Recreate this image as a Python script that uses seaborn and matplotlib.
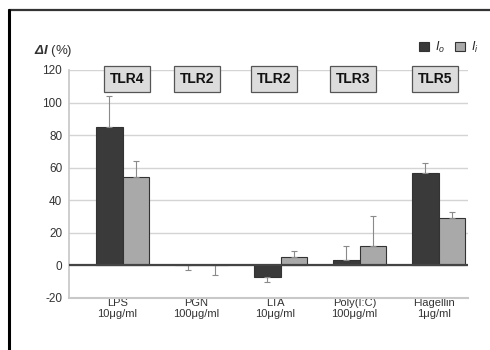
import matplotlib
matplotlib.use("Agg")
import matplotlib.pyplot as plt
import seaborn as sns
import pandas as pd
import numpy as np
from matplotlib.lines import Line2D

categories = ["LPS\n10μg/ml", "PGN\n100μg/ml", "LTA\n10μg/ml", "Poly(I:C)\n100μg/ml", "Flagellin\n1μg/ml"]
receptors = ["TLR4", "TLR2", "TLR2", "TLR3", "TLR5"]
io_values = [85, 0, -7, 3, 57]
ii_values = [54, 0, 5, 12, 29]
# signed one-sided errors (positive = upward, negative = downward)
io_err = [19, -3, -3, 9, 6]
ii_err = [10, -6, 4, 18, 4]
series = ["$I_o$", "$I_i$"]
y_ticks = [-20, 0, 20, 40, 60, 80, 100, 120]

sns.set_theme(style="white")
plt.rcParams["font.family"] = ["Liberation Sans", "DejaVu Sans"]
plt.rcParams["mathtext.fontset"] = "custom"
plt.rcParams["mathtext.it"] = "Liberation Sans:italic"
plt.rcParams["mathtext.bf"] = "Liberation Sans:bold:italic"
plt.rcParams["mathtext.rm"] = "Liberation Sans"
plt.rcParams["axes.unicode_minus"] = False

df = pd.DataFrame({
    "cat": categories * 2,
    "series": [series[0]] * 5 + [series[1]] * 5,
    "value": io_values + ii_values,
})

fig = plt.figure(figsize=(4.9, 3.5), dpi=100)
ax = fig.add_axes([0.141, 0.149, 0.814, 0.651])

palette = {series[0]: "#3a3a3a", series[1]: "#a9a9a9"}
sns.barplot(data=df, x="cat", y="value", hue="series", palette=palette,
            width=0.67, edgecolor="#333333", linewidth=0.8, ax=ax,
            errorbar=None, zorder=3, saturation=1)

# error bars (one-sided, away from the bar top)
for cont, errs in zip(ax.containers, [io_err, ii_err]):
    for patch, e in zip(cont.patches, errs):
        x = patch.get_x() + patch.get_width() / 2
        y_lo = patch.get_y()
        y_hi = patch.get_y() + patch.get_height()
        lo, hi = min(y_lo, y_hi), max(y_lo, y_hi)
        base = hi if e >= 0 else lo
        yerr = [[0], [e]] if e >= 0 else [[-e], [0]]
        ax.errorbar([x], [base], yerr=yerr, fmt="none", ecolor="#8a8a8a",
                    elinewidth=0.8, capsize=2, capthick=0.8, zorder=4)

ax.set_ylim(-20, 120)
ax.set_yticks(y_ticks)
ax.set_xlim(-0.677, 4.37)
ax.set_xticks([i - 0.065 for i in range(len(categories))])
ax.set_xticklabels(categories)
ax.yaxis.grid(True, color="#d4d4d4", linewidth=1, zorder=0)
ax.set_axisbelow(True)
ax.axhline(0, color="#444444", linewidth=1.6, zorder=5)
for s in ["top", "right"]:
    ax.spines[s].set_visible(False)
ax.spines["left"].set_color("#c8c8c8")
ax.spines["bottom"].set_color("#c8c8c8")
ax.spines["bottom"].set_linewidth(1.5)
ax.tick_params(axis="y", labelsize=8.5, colors="#333333", length=0, pad=5)
ax.tick_params(axis="x", labelsize=8, colors="#333333", length=0, pad=0)
for lbl in ax.get_xticklabels():
    lbl.set_linespacing(1.15)
ax.set_xlabel("")
ax.set_ylabel("")

# receptor boxes (slight per-box offsets as in the reference)
box_shift = [0.057, -0.057, -0.082, -0.082, -0.05]
for i, r in enumerate(receptors):
    ax.text(i + box_shift[i], 114.4, r, ha="center", va="center", fontsize=10,
            fontweight="bold", color="#111111", zorder=6,
            bbox=dict(boxstyle="square,pad=0.42", facecolor="#dcdcdc",
                      edgecolor="#555555", linewidth=0.9))

ax.text(-0.087, 1.085, "$\\mathbf{\\Delta I}$ (%)", transform=ax.transAxes,
        fontsize=9.5, ha="left", va="center", color="#333333")

ax.legend(loc="lower right", bbox_to_anchor=(1.04, 1.045), ncol=2,
          frameon=False, fontsize=9, handlelength=0.8, handleheight=0.8,
          columnspacing=0.8, handletextpad=0.5, borderaxespad=0)

# figure frame lines (top and left)
fig.add_artist(Line2D([0.018, 1.0], [0.971, 0.971], transform=fig.transFigure,
                      color="#333333", linewidth=1.6))
fig.add_artist(Line2D([0.018, 0.018], [0.971, 0.0], transform=fig.transFigure,
                      color="#000000", linewidth=2.2))

fig.savefig("out.png", dpi=100)
